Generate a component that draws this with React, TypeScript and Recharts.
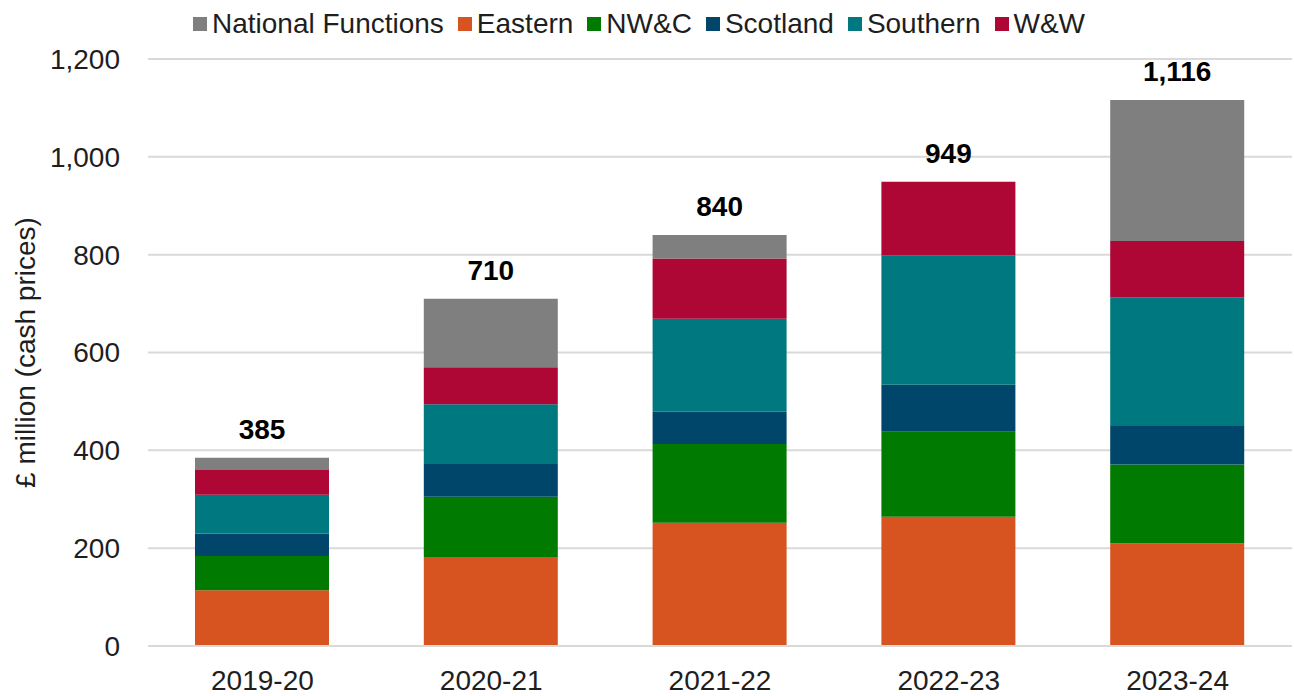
import { Bar, BarChart, CartesianGrid, LabelList, Legend, XAxis, YAxis } from "recharts";

const YEARS = ["2019-20", "2020-21", "2021-22", "2022-23", "2023-24"];

// stacked from the bottom up
const EASTERN = [114, 182, 252, 264, 210];
const NWC = [70, 123, 161, 174, 161];
const SCOTLAND = [46, 67, 66, 96, 79];
const SOUTHERN = [79, 122, 190, 265, 263];
const WW = [51, 76, 123, 150, 115];
const NATIONAL = [25, 140, 48, 0, 288];

const TOTALS = [385, 710, 840, 949, 1116];

const Y_TICKS = [0, 200, 400, 600, 800, 1000, 1200];

const FONT = "'Liberation Sans', Arial, sans-serif";
const TEXT = "#1e1e1e";

const SERIES = [
  { key: "eastern", label: "Eastern", color: "#D7531F" },
  { key: "nwc", label: "NW&C", color: "#007A00" },
  { key: "scotland", label: "Scotland", color: "#00466A" },
  { key: "southern", label: "Southern", color: "#007880" },
  { key: "ww", label: "W&W", color: "#AE0635" },
  { key: "national", label: "National Functions", color: "#7F7F7F" },
];

// legend reads in a different order from the stack
const LEGEND_ORDER = ["national", "eastern", "nwc", "scotland", "southern", "ww"];

// total goes on whichever segment is the top of the stack
const data = YEARS.map((year, i) => ({
  year,
  eastern: EASTERN[i],
  nwc: NWC[i],
  scotland: SCOTLAND[i],
  southern: SOUTHERN[i],
  ww: WW[i],
  national: NATIONAL[i],
  totalOnNational: NATIONAL[i] > 0 ? TOTALS[i] : null,
  totalOnWW: NATIONAL[i] > 0 ? null : TOTALS[i],
}));

function LegendRow() {
  return (
    <div
      style={{
        boxSizing: "border-box",
        height: 59,
        paddingTop: 6,
        display: "flex",
        justifyContent: "center",
        alignItems: "flex-start",
        fontFamily: FONT,
        fontSize: 28,
        color: TEXT,
      }}
    >
      {LEGEND_ORDER.map((k) => {
        const s = SERIES.find((x) => x.key === k)!;
        return (
          <div key={k} style={{ display: "flex", alignItems: "center", height: 36, marginRight: 14 }}>
            <span style={{ width: 14, height: 14, background: s.color, marginRight: 5, display: "inline-block" }} />
            <span style={{ lineHeight: "36px", whiteSpace: "nowrap" }}>{s.label}</span>
          </div>
        );
      })}
    </div>
  );
}

function YLabel({ viewBox }: any) {
  const cx = viewBox.x + 25;
  const cy = viewBox.y + viewBox.height / 2;
  return (
    <text
      x={cx}
      y={cy}
      transform={`rotate(-90, ${cx}, ${cy})`}
      textAnchor="middle"
      dominantBaseline="central"
      fontFamily={FONT}
      fontSize={28}
      fill={TEXT}
    >
      £ million (cash prices)
    </text>
  );
}

const totalLabelStyle = { fontFamily: FONT, fontSize: 28, fontWeight: 700, fill: "#000" };
const fmt = (v: any) => Number(v).toLocaleString("en-GB");

export default function App() {
  return (
    <div style={{ position: "absolute", left: 0, top: 0, background: "#fff" }}>
      <BarChart
        width={1294}
        height={696}
        data={data}
        margin={{ top: 0, right: 2, bottom: 0, left: 0 }}
      >
        <Legend verticalAlign="top" content={() => <LegendRow />} />
        <CartesianGrid vertical={false} stroke="#d9d9d9" strokeWidth={2} />
        <XAxis
          dataKey="year"
          height={50}
          tickSize={0}
          tickMargin={24}
          axisLine={{ stroke: "#d9d9d9", strokeWidth: 2 }}
          tick={{ fontFamily: FONT, fontSize: 28, fill: TEXT }}
        />
        <YAxis
          width={148}
          domain={[0, 1200]}
          ticks={Y_TICKS}
          interval={0}
          tickSize={0}
          tickMargin={28}
          axisLine={false}
          tickLine={false}
          tickFormatter={(v: number) => v.toLocaleString("en-GB")}
          tick={{ fontFamily: FONT, fontSize: 28, fill: TEXT }}
          label={<YLabel />}
        />
        {SERIES.map((s) => (
          <Bar key={s.key} dataKey={s.key} stackId="a" fill={s.color} barSize={134} isAnimationActive={false}>
            {s.key === "national" && (
              <LabelList dataKey="totalOnNational" position="top" offset={19} formatter={fmt} style={totalLabelStyle} />
            )}
            {s.key === "ww" && (
              <LabelList dataKey="totalOnWW" position="top" offset={19} formatter={fmt} style={totalLabelStyle} />
            )}
          </Bar>
        ))}
      </BarChart>
    </div>
  );
}
